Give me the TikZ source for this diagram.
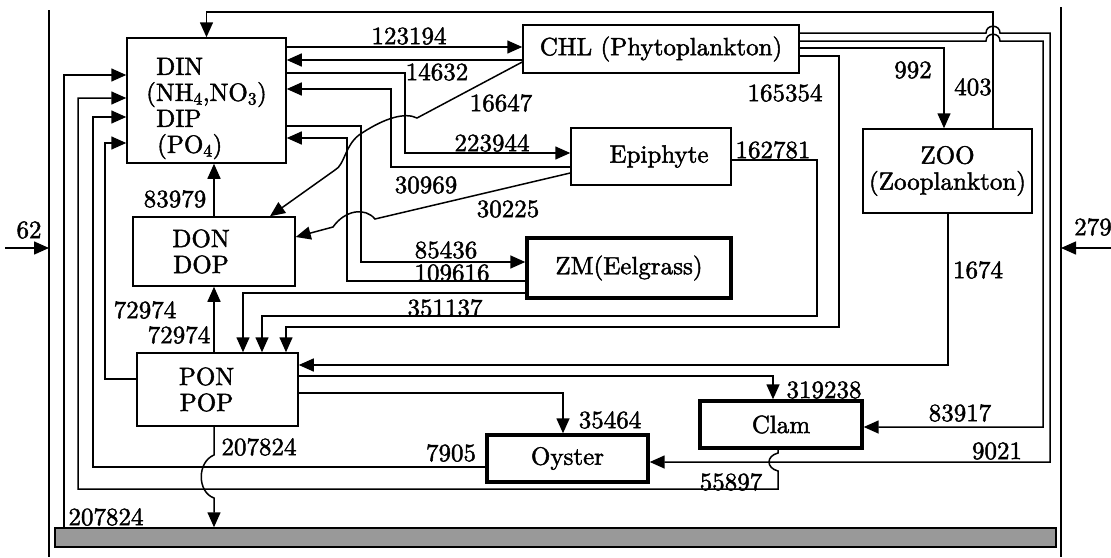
\documentclass[tikz,border=0pt]{standalone}
\usepackage{fontspec}
\newfontfamily\lmfat{lmroman10-regular}[Extension=.otf, FakeBold=1.8]
\usepackage{tikz}
\usetikzlibrary{positioning,arrows.meta,calc}

\begin{document}
\begin{tikzpicture}[
  x=1pt, y=-1pt,
  font=\lmfat\fontsize{25}{26}\selectfont,
  box/.style={draw=black, line width=1.5pt, align=center, inner sep=2pt, font=\lmfat\fontsize{25}{26}\selectfont},
  tbox/.style={box, line width=3.4pt},
  sed/.style={draw=black, line width=1.5pt, fill=black!40, inner sep=0pt},
  arr/.style={-{Triangle[length=15pt,width=13pt]}, line width=1.5pt},
  ln/.style={line width=1.5pt},
  lab/.style={inner sep=1pt},
]
\useasboundingbox (0,0) rectangle (1111,557);
% ---- compartments ----
\node[box, align=left, minimum width=159pt, minimum height=125pt] (din) at (206.5,100.5) {\rule{0pt}{33pt}\hspace*{10pt}DIN\\(NH\textsubscript{4},NO\textsubscript{3})\\\hspace*{10pt}DIP\\\hspace*{11pt}(PO\textsubscript{4})};
\node[box, minimum width=276pt, minimum height=48pt] (chl) at (661,49) {CHL (Phytoplankton)};
\node[box, minimum width=160pt, minimum height=57pt] (epi) at (651,156.5) {\hspace*{16pt}Epiphyte};
\node[box, minimum width=169pt, minimum height=84pt] (zoo) at (947.5,171) {ZOO\\(Zooplankton)};
\node[box, minimum width=162pt, minimum height=69pt] (don) at (214,251.5) {DON\hspace*{26pt}\\DOP\hspace*{26pt}};
\node[tbox, minimum width=204pt, minimum height=60pt] (zm) at (629,268) {ZM(Eelgrass)};
\node[box, minimum width=161pt, minimum height=73pt] (pon) at (217.5,389.5) {PON\hspace*{22pt}\\POP\hspace*{22pt}};
\node[tbox, minimum width=161pt, minimum height=47pt] (oys) at (567.5,458.5) {Oyster};
\node[tbox, minimum width=162pt, minimum height=47pt] (clam) at (781,424.5) {Clam};
\node[sed, minimum width=1001pt, minimum height=19pt] (sed) at (555.5,537.5) {};
% ---- boundaries ----
\draw[ln] (49,10) -- (49,557);
\draw[ln] (1061,7) -- (1061,557);
\coordinate (in62) at (5,248);
\coordinate (wl) at (49,248);
\coordinate (in279) at (1111,248);
\coordinate (wr) at (1061,248);
\draw[arr] (in62) -- (wl);
\draw[arr] (in279) -- (wr);
% ---- DIN exchanges ----
\draw[arr] (din.east |- 0,47) -- (chl.west |- 0,47);
\draw[arr] (chl.west |- 0,60) -- (din.east |- 0,60);
\draw[arr] (din.east |- 0,73) -| (405,153) -- (epi.west |- 0,153);
\draw[arr] (epi.west |- 0,167) -| (391,89) -- (din.east |- 0,89);
\draw[arr] (din.east |- 0,126) -| (361,262) -- (zm.west |- 0,262);
\draw[arr] (zm.west |- 0,281) -| (347,138) -- (din.east |- 0,138);
\draw[arr] (zoo.north -| 993,0) |- (din.north |- 0,12) -- (din.north);
% ---- CHL outputs ----
\draw[arr] (chl.east |- 0,33) -- (986,33) .. controls (986,24) and (1000,24) .. (1000,33) -- (1050,33) |- (oys.east |- 0,462);
\draw[arr] (chl.east |- 0,41) -- (986,41) .. controls (986,32) and (1000,32) .. (1000,41) -- (1043,41) |- (clam.east |- 0,427);
\draw[arr] (chl.east |- 0,48) -| (zoo.north -| 944,0);
\draw[arr] (chl.east |- 0,56) -| (839,327) -| (pon.north -| 286,0);
\draw[arr] (chl.west |- 0,62) -- (417,118) .. controls (405,112) and (385,118) .. (362,133) .. controls (345,143) and (345,165) .. (335,170) -- (don.north -| 270,0);
% ---- plants and grazers to detritus ----
\draw[arr] (epi.west |- 0,173) -- (375,219) .. controls (365,207) and (345,210) .. (333,227) -- (don.east |- 0,237);
\draw[arr] (epi.east |- 0,160) -| (817,316) -| (pon.north -| 262,0);
\draw[arr] (zm.west |- 0,293) -| (pon.north -| 243,0);
\draw[arr] (zoo.south -| 948,0) |- (pon.east |- 0,365);
% ---- filter feeders ----
\draw[arr] (pon.east |- 0,376) -| (clam.north -| 773,0);
\draw[arr] (pon.east |- 0,393) -| (oys.north -| 563,0);
\draw[arr] (clam.south -| 778,0) -- (778,453) .. controls (766,456) and (766,468) .. (778,471) |- (78,489) |- (din.west |- 0,98);
\draw[arr] (oys.west |- 0,467) -| (93,117) -- (din.west |- 0,117);
% ---- detritus and sediment ----
\draw[arr] (pon.west |- 0,379) -| (105,143) -- (din.west |- 0,143);
\draw[arr] (sed.north -| 64,0) |- (din.west |- 0,75);
\draw[arr] (pon.north -| 214,0) -- (don.south -| 214,0);
\draw[arr] (don.north -| 214,0) -- (din.south -| 214,0);
\draw[arr] (pon.south -| 214,0) -- (214,455) .. controls (197,462) and (197,492) .. (214,498) -- (sed.north -| 214,0);
% ---- flux values ----
\node[lab] (l62) at (29,230) {62};
\node[lab] (l279) at (1093,227) {279};
\node[lab] (l123194) at (409,36) {123194};
\node[lab] (l14632) at (437,72) {14632};
\node[lab] (l16647) at (501,103) {16647};
\node[lab] (l223944) at (492,143) {223944};
\node[lab] (l30969) at (426,185) {30969};
\node[lab] (l30225) at (508,209) {30225};
\node[lab] (l85436) at (446,250) {85436};
\node[lab] (l109616) at (452,273) {109616};
\node[lab] (l351137) at (445,308) {351137};
\node[lab] (l165354) at (785,93) {165354};
\node[lab] (l162781) at (773,150) {162781};
\node[lab] (l992) at (913,70) {992};
\node[lab] (l403) at (973,87) {403};
\node[lab] (l1674) at (978,270) {1674};
\node[lab] (l83979) at (175,199) {83979};
\node[lab] (l72974a) at (145,310) {72974};
\node[lab] (l72974b) at (179,335) {72974};
\node[lab] (l319238) at (824,390) {319238};
\node[lab] (l83917) at (960,413) {83917};
\node[lab] (l35464) at (610,420) {35464};
\node[lab] (l9021) at (997,451) {9021};
\node[lab] (l7905) at (451,453) {7905};
\node[lab] (l207824a) at (259,447) {207824};
\node[lab] (l55897) at (731,482) {55897};
\node[lab] (l207824b) at (106,517) {207824};
\end{tikzpicture}
\end{document}
